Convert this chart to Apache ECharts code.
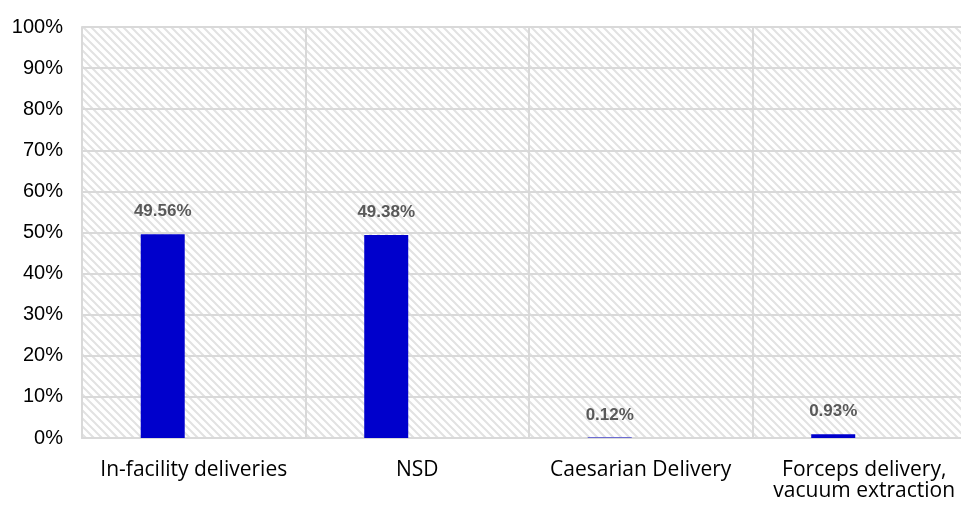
<!DOCTYPE html>
<html>
<head>
<meta charset="utf-8">
<script src="https://cdn.jsdelivr.net/npm/echarts@6/dist/echarts.min.js"></script>
<style>
  html, body { margin: 0; padding: 0; background: #fff; overflow: hidden; }
  /* wider than the window: the plot is cut off at the right edge like the original */
  #chart { width: 990px; height: 508px; }
</style>
</head>
<body>
<div id="chart"></div>
<script>
const categories = ['In-facility deliveries', 'NSD', 'Caesarian Delivery', 'Forceps delivery,\nvacuum extraction'];
const shares = [49.56, 49.38, 0.12, 0.93];
const emptySeries = ['-', '-', '-', '-']; // excel leaves a second empty slot in each cluster
const yTicks = { min: 0, max: 100, interval: 10 };

const GRID_LINE = '#d9d9d9';

// diagonal hatch used as the plot background
function hatchPattern() {
  const c = document.createElement('canvas');
  c.width = 8;
  c.height = 8;
  const ctx = c.getContext('2d');
  ctx.fillStyle = '#ffffff';
  ctx.fillRect(0, 0, 8, 8);
  ctx.strokeStyle = '#e2e2e2';
  ctx.lineWidth = 2;
  ctx.beginPath();
  ctx.moveTo(-2, -2); ctx.lineTo(10, 10);
  ctx.moveTo(-6, 2); ctx.lineTo(6, 14);
  ctx.moveTo(2, -6); ctx.lineTo(14, 6);
  ctx.stroke();
  return { image: c, repeat: 'repeat' };
}

const chart = echarts.init(document.getElementById('chart'), null, { renderer: 'canvas' });

chart.setOption({
  animation: false,
  backgroundColor: '#fff',
  grid: {
    show: true,
    left: 82,
    right: 14,
    top: 27,
    bottom: 70,
    borderWidth: 0,
    backgroundColor: hatchPattern()
  },
  xAxis: {
    type: 'category',
    data: categories,
    axisTick: { show: false },
    axisLine: { lineStyle: { color: GRID_LINE, width: 2 } },
    splitLine: { show: true, interval: 0, lineStyle: { color: GRID_LINE, width: 2 } },
    axisLabel: {
      interval: 0,
      margin: 22,
      color: '#000',
      fontFamily: 'Open Sans',
      fontSize: 21,
      lineHeight: 21
    }
  },
  yAxis: {
    type: 'value',
    min: yTicks.min,
    max: yTicks.max,
    interval: yTicks.interval,
    axisLine: { show: true, lineStyle: { color: GRID_LINE, width: 2 } },
    axisTick: { show: false },
    splitLine: { lineStyle: { color: GRID_LINE, width: 2 } },
    axisLabel: {
      margin: 19,
      color: '#000',
      fontFamily: 'Liberation Sans',
      fontSize: 20,
      formatter: '{value}%'
    }
  },
  series: [
    {
      type: 'bar',
      data: shares,
      barWidth: 44,
      barGap: '41%',
      itemStyle: { color: '#0000cc' },
      label: {
        show: true,
        position: 'top',
        distance: 14,
        color: '#595959',
        fontFamily: 'Liberation Sans',
        fontWeight: 'bold',
        fontSize: 17,
        formatter: p => p.value.toFixed(2) + '%'
      }
    },
    {
      type: 'bar',
      data: emptySeries,
      barWidth: 44
    }
  ]
});
</script>
</body>
</html>
